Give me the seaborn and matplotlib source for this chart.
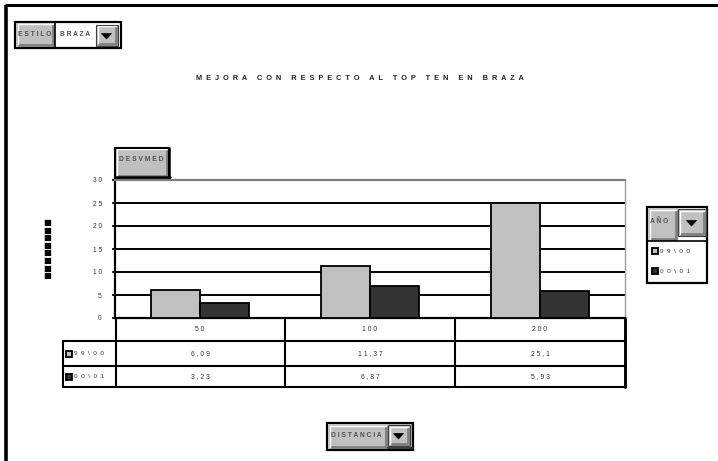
import matplotlib
matplotlib.use("Agg")
import matplotlib.pyplot as plt
from matplotlib.patches import Rectangle, Polygon
import seaborn as sns
import pandas as pd

# Datos: mejora respecto al top ten en braza (desviación media)
distancias = ["50", "100", "200"]
temporadas = ["99\\00", "00\\01"]
mejora_9900 = [6.09, 11.37, 25.1]
mejora_0001 = [3.23, 6.87, 5.93]
y_ticks = [0, 5, 10, 15, 20, 25, 30]
colores = ["#c0c0c0", "#333333"]

titulo = "MEJORA CON RESPECTO AL TOP TEN EN BRAZA"

sns.set_theme(style="white")
plt.rcParams["font.family"] = ["Liberation Sans", "DejaVu Sans"]

W, H = 718, 461
fig = plt.figure(figsize=(W / 100, H / 100), dpi=100)
fig.patch.set_facecolor("white")


def spaced(s, gap=1, word=2):
    return (" " * word).join((" " * gap).join(w) for w in s.split(" "))


def px_axes(x0, y0, x1, y1):
    return [x0 / W, 1 - y1 / H, (x1 - x0) / W, (y1 - y0) / H]


# capa de dibujo en píxeles para marcos, botones y tabla
ov = fig.add_axes([0, 0, 1, 1], zorder=0)
ov.set_xlim(0, W)
ov.set_ylim(H, 0)
ov.axis("off")

# marco exterior (superior e izquierdo)
ov.plot([5, W], [5, 5], color="black", lw=2.2, solid_capstyle="butt")
ov.plot([5.5, 5.5], [5, H], color="black", lw=2.6, solid_capstyle="butt")

# área del gráfico
X0, Y0, X1, Y1 = 115, 180, 625, 318
ax = fig.add_axes(px_axes(X0, Y0, X1, Y1), zorder=2)
ax.set_facecolor("white")

df = pd.DataFrame({
    "Distancia": distancias * 2,
    "Año": [temporadas[0]] * len(distancias) + [temporadas[1]] * len(distancias),
    "Desvmed": mejora_9900 + mejora_0001,
})
sns.barplot(data=df, x="Distancia", y="Desvmed", hue="Año", order=distancias,
            hue_order=temporadas, palette=colores, saturation=1, width=0.58,
            edgecolor="black", linewidth=1.3, errorbar=None, legend=False,
            ax=ax, zorder=3)
ax.set_xlim(-0.5, len(distancias) - 0.5)
ax.set_ylim(y_ticks[0], y_ticks[-1])
for v in y_ticks[1:-1]:
    ax.axhline(v, color="black", lw=1.4, zorder=1)
ax.set_yticks(y_ticks)
ax.set_yticklabels([spaced(str(v)) for v in y_ticks], fontsize=4.8, color="#333333")
ax.tick_params(axis="y", direction="out", length=2.5, width=1.2, color="black", pad=7, left=True)
ax.tick_params(axis="x", bottom=False, labelbottom=False)
ax.set_xlabel("")
ax.set_ylabel("")
ax.spines["left"].set_color("black")
ax.spines["left"].set_linewidth(1.6)
ax.spines["bottom"].set_color("black")
ax.spines["bottom"].set_linewidth(1.6)
ax.spines["top"].set_color("#808080")
ax.spines["top"].set_linewidth(1.6)
ax.spines["right"].set_color("#a0a0a0")
ax.spines["right"].set_linewidth(1.0)

# tabla de datos bajo el eje
cw = (X1 - X0) / len(distancias)
row_y = [318, 341, 366, 387]
LX = 63
lw_t = 1.5
ov.plot([LX, X1], [row_y[1]] * 2, color="black", lw=lw_t)
ov.plot([LX, X1], [row_y[2]] * 2, color="black", lw=lw_t)
ov.plot([LX, X1], [row_y[3]] * 2, color="black", lw=lw_t)
ov.plot([LX, LX], [row_y[1], row_y[3]], color="black", lw=lw_t)
ov.plot([X0 + 1, X0 + 1], [row_y[0], row_y[3]], color="black", lw=lw_t)
for i in range(1, len(distancias) + 1):
    ov.plot([X0 + i * cw] * 2, [row_y[0], row_y[3]], color="black",
            lw=lw_t + (0.6 if i == len(distancias) else 0))

txt_kw = dict(fontsize=4.9, color="#333333", ha="center", va="center", zorder=9)
for i, d in enumerate(distancias):
    cx = X0 + (i + 0.5) * cw
    ov.text(cx, (row_y[0] + row_y[1]) / 2, spaced(d), **txt_kw)
    for r, serie in enumerate([mejora_9900, mejora_0001]):
        val = f"{serie[i]:g}".replace(".", ",")
        ov.text(cx, (row_y[r + 1] + row_y[r + 2]) / 2, spaced(val), **txt_kw)


def swatch(x, y, color, size=6):
    ov.add_patch(Rectangle((x, y - size / 2), size, size, facecolor=color,
                           edgecolor="black", lw=1.3, zorder=5))


for r, (t, c) in enumerate(zip(temporadas, colores)):
    yc = (row_y[r + 1] + row_y[r + 2]) / 2
    swatch(LX + 3, yc, c)
    ov.text(LX + 11, yc, spaced(t, gap=2), fontsize=4.6, color="#333333",
            ha="left", va="center", zorder=9)


# botones de campo
def bevel(x0, y0, x1, y1, fill="#c0c0c0", border=True):
    ov.add_patch(Rectangle((x0, y0), x1 - x0, y1 - y0, facecolor=fill, edgecolor="none", zorder=4))
    ov.plot([x0 + 1.5, x1 - 1.5], [y1 - 2, y1 - 2], color="#808080", lw=2, zorder=5, solid_capstyle="butt")
    ov.plot([x1 - 2, x1 - 2], [y0 + 1.5, y1 - 1.5], color="#808080", lw=2, zorder=5, solid_capstyle="butt")
    ov.plot([x0 + 1.5, x1 - 2.5], [y0 + 1.5, y0 + 1.5], color="white", lw=1, zorder=5)
    ov.plot([x0 + 1.5, x0 + 1.5], [y0 + 1.5, y1 - 2.5], color="white", lw=1, zorder=5)
    if border:
        ov.add_patch(Rectangle((x0, y0), x1 - x0, y1 - y0, facecolor="none", edgecolor="black", lw=1.5, zorder=6))


def dropdown(x0, y0, x1, y1):
    bevel(x0, y0, x1, y1, fill="#c0c0c0", border=False)
    ov.add_patch(Rectangle((x0, y0), x1 - x0, y1 - y0, facecolor="none", edgecolor="#404040", lw=0.8, zorder=6))
    cx, cy = (x0 + x1) / 2 - 0.5, (y0 + y1) / 2 + 0.5
    ov.add_patch(Polygon([(cx - 5, cy - 2.5), (cx + 5, cy - 2.5), (cx, cy + 3)],
                         closed=True, facecolor="black", edgecolor="black", lw=0.5, zorder=7))


lbl_kw = dict(fontsize=4.8, fontweight="bold", color="#505050", va="center", ha="left", zorder=9)

# selector de estilo
ov.add_patch(Rectangle((15, 22), 106, 26, facecolor="white", edgecolor="black", lw=1.6, zorder=3))
bevel(16, 23, 55, 47, border=False)
ov.plot([55, 55], [22, 48], color="black", lw=1.2, zorder=6)
ov.text(18, 34, spaced("ESTILO"), **lbl_kw)
ov.text(60, 34, spaced("BRAZA"), **lbl_kw)
dropdown(96, 25, 118, 46)

# título
ov.text(360, 78, spaced(titulo, gap=2, word=5), fontsize=5.3, fontweight="bold",
        color="#222222", ha="center", va="center", zorder=9)

# botón del campo de datos
bevel(115, 148, 169, 178)
ov.plot([116, 169.5], [177.5, 177.5], color="black", lw=1.8, zorder=7)
ov.plot([169, 169], [148, 178], color="black", lw=1.8, zorder=7)
ov.text(119, 159, spaced("DESVMED"), **lbl_kw)

# título del eje de valores
ov.text(47, 249, "\n".join("■" * 8), fontsize=6.0, color="black", ha="center", va="center",
        linespacing=0.8, family=["DejaVu Sans"], zorder=9)

# leyenda con campo Año
LG0, LG1 = 647, 707
ov.add_patch(Rectangle((LG0, 207), LG1 - LG0, 76, facecolor="white", edgecolor="black", lw=1.6, zorder=3))
bevel(LG0 + 1, 208, 678, 241, border=False)
ov.plot([LG0, LG1], [241, 241], color="black", lw=1.2, zorder=6)
ov.text(LG0 + 3, 221, spaced("AÑO"), **lbl_kw)
dropdown(678, 209, 706, 236)
for r, (t, c) in enumerate(zip(temporadas, colores)):
    yc = 251 + r * 20
    swatch(LG0 + 5, yc, c)
    ov.text(LG0 + 13, yc, spaced(t, gap=2), fontsize=4.6, color="#333333",
            ha="left", va="center", zorder=9)

# selector de distancia
ov.add_patch(Rectangle((327, 423), 86, 27, facecolor="#c0c0c0", edgecolor="black", lw=1.6, zorder=3))
bevel(328, 424, 388, 449, border=False)
ov.text(331, 435, spaced("DISTANCIA"), **lbl_kw)
dropdown(388, 425, 410, 446)
ov.plot([388, 412], [448, 448], color="#404040", lw=1.5, zorder=7)

fig.savefig("out.png", dpi=100, facecolor="white")
